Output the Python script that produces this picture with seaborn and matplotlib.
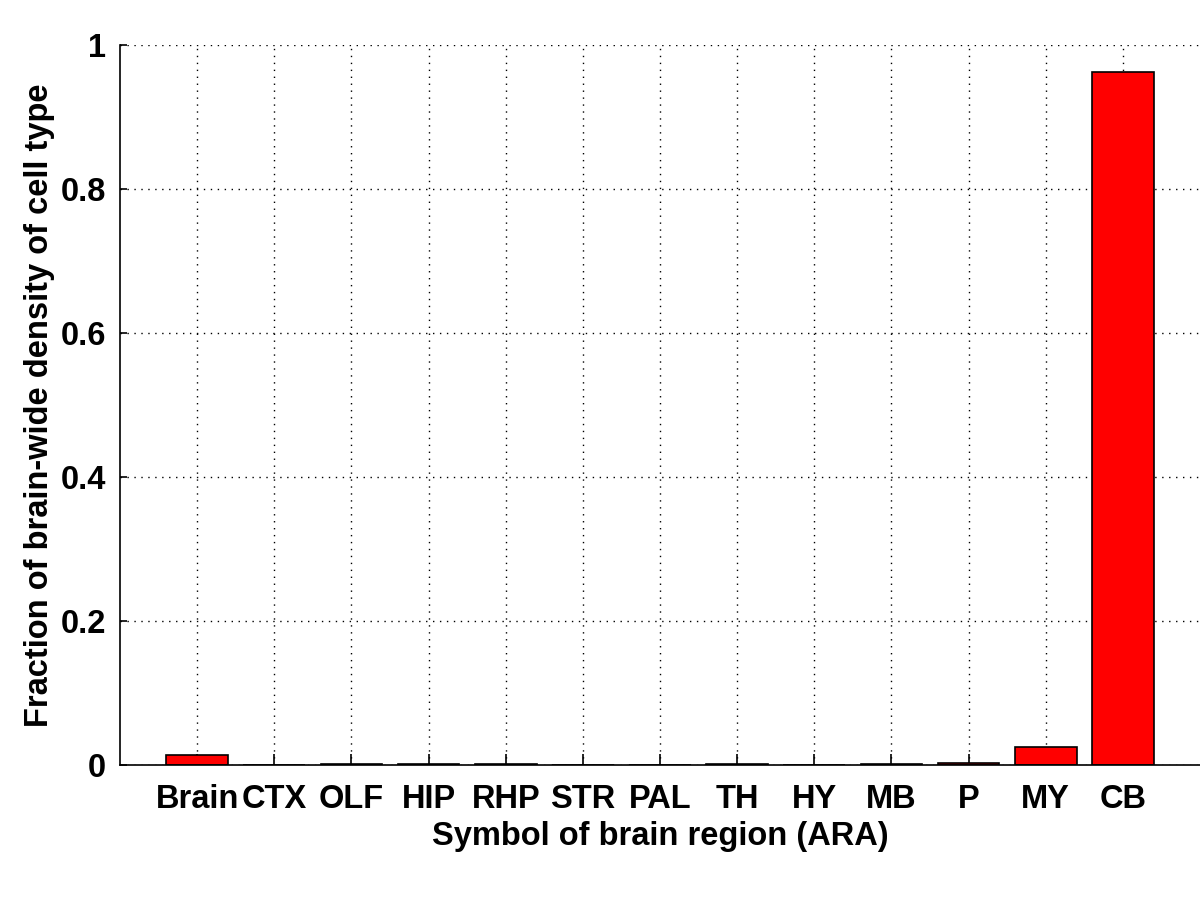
import matplotlib
matplotlib.use("Agg")
import matplotlib.pyplot as plt
import pandas as pd
import seaborn as sns

regions = ["Brain", "CTX", "OLF", "HIP", "RHP", "STR", "PAL", "TH", "HY", "MB", "P", "MY", "CB"]
fractions = [0.014, 0.0, 0.0008, 0.0008, 0.0008, 0.0, 0.0, 0.0008, 0.0, 0.0008, 0.0025, 0.025, 0.962]
yticks = [0, 0.2, 0.4, 0.6, 0.8, 1]
ytick_labels = ["0", "0.2", "0.4", "0.6", "0.8", "1"]

df = pd.DataFrame({"region": regions, "fraction": fractions})

sns.set_theme(style="white")
plt.rcParams["font.family"] = ["Liberation Sans", "DejaVu Sans"]
plt.rcParams["font.weight"] = "bold"

fig = plt.figure(figsize=(12, 9), dpi=100)
ax = fig.add_axes([0.1, 0.15, 0.9, 0.8])

sns.barplot(data=df, x="region", y="fraction", color="#ff0000", saturation=1,
            edgecolor="black", linewidth=1.2, width=0.8, ax=ax)

ax.set_xlim(-1, len(regions))
ax.set_ylim(0, 1)
ax.set_yticks(yticks)
ax.set_yticklabels(ytick_labels)

ax.grid(True, color="black", linestyle=(0, (1, 4)), linewidth=1.0)
ax.set_axisbelow(True)
for side in ["top", "right"]:
    ax.spines[side].set_visible(False)
for side in ["left", "bottom"]:
    ax.spines[side].set_color("black")
    ax.spines[side].set_linewidth(1.2)

ax.tick_params(axis="x", bottom=True, direction="in", length=8, width=1.2,
               colors="black", labelsize=23.5, pad=14)
ax.tick_params(axis="y", left=True, direction="in", length=5, width=1.2,
               colors="black", labelsize=23.5, pad=10)
for lbl in ax.get_xticklabels() + ax.get_yticklabels():
    lbl.set_fontweight("bold")

ax.set_xlabel("Symbol of brain region (ARA)", fontsize=23.5, fontweight="bold",
              color="black", labelpad=4)
ax.set_ylabel("Fraction of brain-wide density of cell type", fontsize=23.5,
              fontweight="bold", color="black", labelpad=4)

fig.savefig("out.png", dpi=100)
plt.close(fig)
